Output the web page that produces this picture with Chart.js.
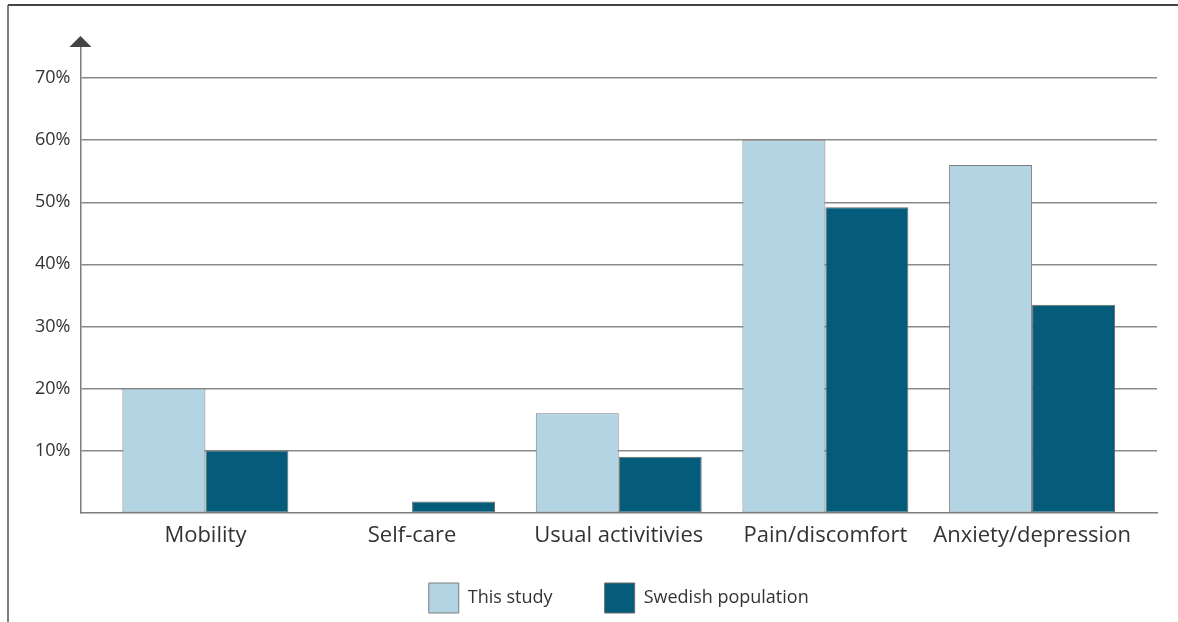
<!DOCTYPE html>
<html>
<head>
<meta charset="utf-8">
<script src="https://cdn.jsdelivr.net/npm/chart.js@4/dist/chart.umd.min.js"></script>
<style>
  html, body { margin: 0; padding: 0; background: #fff; }
  #wrap { width: 1178px; height: 622px; }
</style>
</head>
<body>
<div id="wrap"><canvas id="myChart" width="1178" height="622"></canvas></div>
<script>
var categories = ['Mobility', 'Self-care', 'Usual activitivies', 'Pain/discomfort', 'Anxiety/depression'];
var thisStudy = [20, 0, 16, 60, 56];
var swedishPopulation = [10, 1.8, 9, 49.2, 33.5];
var yTicks = [10, 20, 30, 40, 50, 60, 70];

// frame lines and the arrow on top of the y axis
var decorations = {
    id: 'decorations',
    afterDraw: function(chart) {
        var ctx = chart.ctx;
        var x = chart.chartArea.left;
        var top = chart.chartArea.top;
        ctx.save();
        ctx.strokeStyle = '#444';
        ctx.lineWidth = 2;
        ctx.beginPath();
        ctx.moveTo(8, 5);
        ctx.lineTo(1178, 5);
        ctx.stroke();
        ctx.strokeStyle = '#555';
        ctx.lineWidth = 1.5;
        ctx.beginPath();
        ctx.moveTo(8, 5);
        ctx.lineTo(8, 622);
        ctx.stroke();
        ctx.fillStyle = '#444';
        ctx.beginPath();
        ctx.moveTo(x - 11, top + 3);
        ctx.lineTo(x + 11, top + 3);
        ctx.lineTo(x, top - 8);
        ctx.closePath();
        ctx.fill();
        ctx.restore();
    }
};

var ctx = document.getElementById('myChart');
var myChart = new Chart(ctx, {
    type: 'bar',
    data: {
        datasets: [{
            label: 'This study',
            data: thisStudy.map(function(v, i) { return {x: i, y: v}; }),
            backgroundColor: '#b3d4e3',
            borderColor: '#7d7d7d',
            borderWidth: 1,
            borderSkipped: false
        }, {
            label: 'Swedish population',
            data: swedishPopulation.map(function(v, i) { return {x: i, y: v}; }),
            backgroundColor: '#055c7a',
            borderColor: '#6b6b6b',
            borderWidth: 1,
            borderSkipped: false
        }]
    },
    options: {
        responsive: false,
        animation: false,
        categoryPercentage: 0.803,
        barPercentage: 1.0,
        layout: { padding: { left: 25, right: 21, top: 44, bottom: -1 } },
        plugins: {
            tooltip: { enabled: false },
            legend: {
                position: 'bottom',
                fullSize: false,
                labels: {
                    boxWidth: 30,
                    boxHeight: 30,
                    padding: 24,
                    color: '#333',
                    font: { family: 'Open Sans', size: 18 },
                    generateLabels: function(chart) {
                        var items = Chart.defaults.plugins.legend.labels.generateLabels(chart);
                        // wider gap between the two entries
                        items[0].text = items[0].text + '      ';
                        return items;
                    }
                }
            }
        },
        scales: {
            x: {
                type: 'linear',
                min: -0.6045,
                max: 4.6045,
                offset: false,
                afterBuildTicks: function(scale) {
                    scale.ticks = categories.map(function(c, i) { return {value: i}; });
                },
                grid: { display: false, drawTicks: false, offset: false },
                border: { color: '#7d7d7d', width: 1.5 },
                ticks: {
                    padding: 10,
                    autoSkip: false,
                    maxRotation: 0,
                    color: '#333',
                    font: { family: 'Open Sans', size: 22 },
                    callback: function(v) { return categories[v]; }
                }
            },
            y: {
                min: 0,
                max: 75.5,
                afterBuildTicks: function(scale) {
                    scale.ticks = yTicks.map(function(v) { return {value: v}; });
                },
                grid: { color: '#8a8a8a', lineWidth: 1.5, drawTicks: false },
                border: { color: '#7d7d7d', width: 1.5 },
                ticks: {
                    padding: 10,
                    color: '#333',
                    font: { family: 'Open Sans', size: 18 },
                    callback: function(v) { return v + '%'; }
                }
            }
        }
    },
    plugins: [decorations]
});
</script>
</body>
</html>
